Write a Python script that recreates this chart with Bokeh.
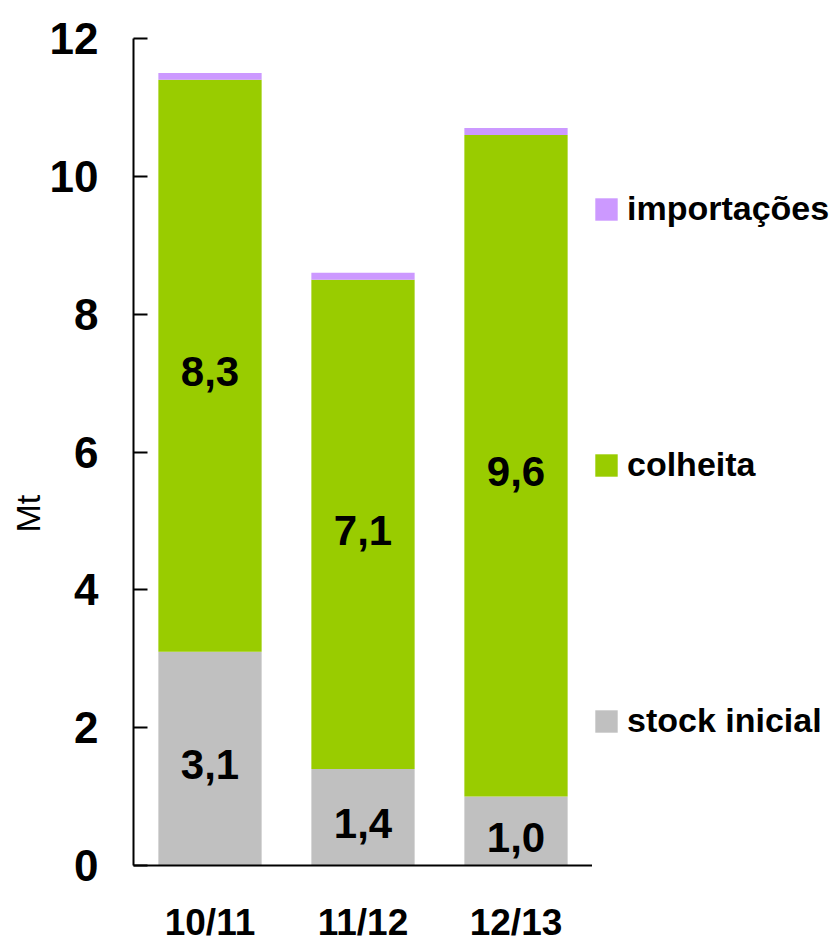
from bokeh.plotting import figure
from bokeh.models import ColumnDataSource, Legend, LegendItem, FixedTicker, Range1d, FactorRange, Title
from bokeh.layouts import row
from bokeh.core.properties import value
from bokeh.embed import file_html
from bokeh.resources import INLINE

seasons = ["10/11", "11/12", "12/13"]
stock_inicial = [3.1, 1.4, 1.0]
colheita = [8.3, 7.1, 9.6]
importacoes = [0.1, 0.1, 0.1]
stock_labels = ["3,1", "1,4", "1,0"]
colheita_labels = ["8,3", "7,1", "9,6"]
y_ticks = [0, 2, 4, 6, 8, 10, 12]
legend_labels = ["importações", "colheita", "stock inicial"]

FONT = "Liberation Sans"
GRAY = "#C0C0C0"
GREEN = "#99CC00"
PURPLE = "#CC99FF"

W_MAIN, H_FIG = 592, 945
p = figure(width=W_MAIN, height=H_FIG, x_range=FactorRange(*seasons, range_padding=0),
           y_range=Range1d(0, 12), output_backend="svg", toolbar_location=None,
           min_border_left=133, min_border_right=0, min_border_top=38,
           min_border_bottom=H_FIG - 866)
p.outline_line_color = None
p.grid.visible = False
p.background_fill_color = "white"

s1 = [a for a in stock_inicial]
s2 = [a + b for a, b in zip(stock_inicial, colheita)]
s3 = [a + b + c for a, b, c in zip(stock_inicial, colheita, importacoes)]

src = ColumnDataSource(dict(x=seasons, b0=[0] * 3, s1=s1, s2=s2, s3=s3,
                            m1=[v / 2 for v in s1],
                            m2=[(a + b) / 2 for a, b in zip(s1, s2)],
                            sl=stock_labels, cl=colheita_labels))

W = 0.675
p.vbar(x="x", bottom="b0", top="s1", width=W, source=src, fill_color=GRAY, line_color=None)
p.vbar(x="x", bottom="s1", top="s2", width=W, source=src, fill_color=GREEN, line_color=None)
p.vbar(x="x", bottom="s2", top="s3", width=W, source=src, fill_color=PURPLE, line_color=None)

for col, ycol in (("sl", "m1"), ("cl", "m2")):
    p.text(x="x", y=ycol, text=col, source=src, text_font=value(FONT), text_font_size="42px",
           text_font_style="bold", text_align="center", text_baseline="middle",
           text_color="black", y_offset=6)

# axes
p.yaxis.ticker = FixedTicker(ticks=y_ticks)
p.yaxis.major_tick_in = 14
p.yaxis.major_tick_out = 0
p.yaxis.minor_tick_line_color = None
p.yaxis.major_label_standoff = 35
p.yaxis.major_label_text_font = FONT
p.yaxis.major_label_text_font_size = "44px"
p.yaxis.major_label_text_font_style = "bold"
p.yaxis.major_label_text_color = "black"
p.yaxis.axis_line_width = 2
p.yaxis.major_tick_line_width = 2
p.yaxis.axis_line_color = "black"
p.yaxis.major_tick_line_color = "black"

p.xaxis.major_tick_in = 0
p.xaxis.major_tick_out = 0
p.xaxis.axis_line_width = 2
p.xaxis.axis_line_color = "black"
p.xaxis.major_label_standoff = 36
p.xaxis.major_label_text_font = FONT
p.xaxis.major_label_text_font_size = "37px"
p.xaxis.major_label_text_font_style = "bold"
p.xaxis.major_label_text_color = "black"

mt = Title(text="Mt", align="left", offset=333, text_font=FONT, text_font_size="34px",
           text_font_style="normal", text_color="black", standoff=0)
p.add_layout(mt, "left")

# legend in a separate panel figure
lg = figure(width=238, height=H_FIG, x_range=Range1d(0, 1), y_range=Range1d(0, 1),
            output_backend="svg", toolbar_location=None, min_border=0)
lg.axis.visible = False
lg.grid.visible = False
lg.outline_line_color = None
hidden = ColumnDataSource(dict(x=[5], top=[5]))
rs = []
for c in (PURPLE, GREEN, GRAY):
    rs.append(lg.vbar(x="x", top="top", width=0.1, source=hidden, fill_color=c, line_color=None))

legend = Legend(items=[LegendItem(label=t, renderers=[r]) for t, r in zip(legend_labels, rs)],
                location=(0, 125), orientation="vertical",
                glyph_width=28, glyph_height=28, label_height=28, label_width=10,
                spacing=217, padding=0, margin=0, label_standoff=7,
                label_text_font=FONT, label_text_font_size="34px",
                label_text_font_style="bold", label_text_color="black",
                label_text_baseline="middle",
                border_line_color=None, background_fill_alpha=0)
lg.add_layout(legend, "center")

layout = row(p, lg)
open("out.html", "w").write(file_html(layout, INLINE))
